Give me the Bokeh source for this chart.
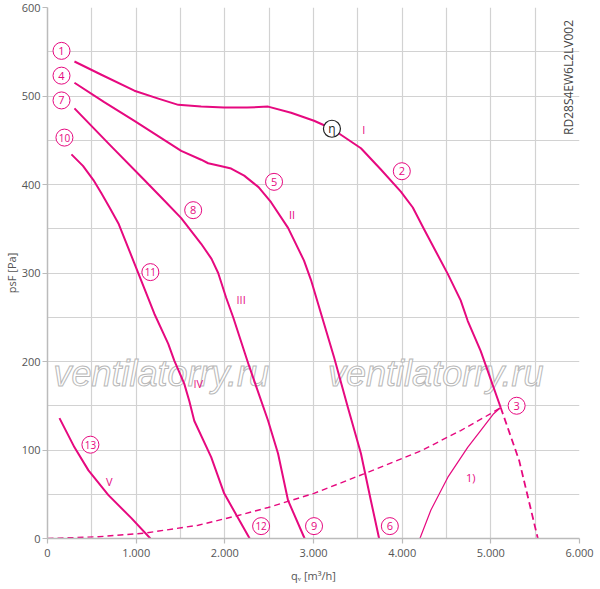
import math
from bokeh.plotting import figure
from bokeh.models import FixedTicker, ColumnDataSource
from bokeh.core.properties import value
from bokeh.embed import file_html
from bokeh.resources import INLINE

# ---------------- data ----------------
x_ticks = [0, 1000, 2000, 3000, 4000, 5000, 6000]
x_tick_labels = ["0", "1.000", "2.000", "3.000", "4.000", "5.000", "6.000"]
x_minor = [500, 1500, 2500, 3500, 4500, 5500]
y_ticks = [0, 100, 200, 300, 400, 500, 600]
y_tick_labels = ["0", "100", "200", "300", "400", "500", "600"]
y_minor = [50, 150, 250, 350, 450, 550]

curve_I_q = [304, 608, 980, 1250, 1475, 1733, 1992, 2250, 2488, 2747, 3006, 3208, 3535, 3760, 3985, 4120, 4244, 4514, 4660, 4739, 4885, 5111]
curve_I_p = [539, 524, 506, 497, 490, 488, 487, 487, 488, 481, 472, 463, 441, 417, 392, 374, 350, 299, 269, 246, 212, 148]
curve_I_ext_q = [5111, 5320, 5530]
curve_I_ext_p = [148, 88, 0]

curve_II_q = [304, 640, 980, 1508, 1733, 1812, 1950, 2071, 2218, 2380, 2521, 2713, 2893, 2972, 3231, 3388, 3535, 3647, 3740]
curve_II_p = [515, 493, 472, 438, 428, 424, 421, 418, 410, 397, 380, 351, 314, 292, 205, 148, 96, 43, 0]

curve_III_q = [304, 700, 1092, 1317, 1508, 1733, 1850, 1925, 2015, 2094, 2263, 2488, 2600, 2713, 2900]
curve_III_p = [486, 445, 405, 382, 362, 333, 316, 300, 272, 250, 198, 133, 96, 43, 0]

curve_IV_q = [270, 400, 518, 608, 700, 800, 980, 1205, 1362, 1430, 1542, 1600, 1655, 1846, 1992, 2280]
curve_IV_p = [434, 421, 405, 390, 374, 356, 311, 254, 220, 201, 175, 155, 133, 92, 51, 0]

curve_V_q = [135, 304, 462, 687, 946, 1160]
curve_V_p = [136, 103, 77, 49, 23, 0]

curve_1_q = [4200, 4323, 4514, 4739, 4885, 5032, 5111]
curve_1_p = [0, 32, 69, 103, 122, 141, 148]

system_q = [0, 574, 1092, 1700, 2150, 2488, 3006, 3568, 4210, 4660, 4998, 5111]
system_p = [0, 2, 6, 15, 26, 35, 51, 73, 99, 122, 141, 148]

circ_labels = ["1", "4", "7", "10", "2", "5", "8", "11", "3", "6", "9", "12", "13"]
circ_q = [158, 158, 158, 191, 3996, 2555, 1643, 1160, 5291, 3861, 3006, 2409, 484]
circ_p = [551, 523, 495, 453, 415, 403, 371, 301, 150, 14, 14, 14, 106]

eta_label = ["η"]
eta_q = [3208]
eta_p = [463]

roman_labels = ["I", "II", "III", "IV", "V", "1)"]
roman_q = [3568, 2758, 2184, 1700, 698, 4773]
roman_p = [462, 366, 270, 175, 64, 69]

model_label = ["RD28S4EW6L2LV002"]
model_q = [5876]
model_p = [521]

watermark = ["ventilatorry.ru", "ventilatorry.ru"]
watermark_q = [1283, 4379]
watermark_p = [186, 186]

# ---------------- styles ----------------
PINK = "#E6097F"
GRID = "#d2d2d2"
TXT = "#555555"
FONT = "Open Sans"

p = figure(width=594, height=585, x_range=(0, 6000), y_range=(0, 600),
           output_backend="svg", toolbar_location=None,
           min_border_left=40, min_border_top=7, min_border_right=15, min_border_bottom=40)
p.outline_line_color = None

xt = FixedTicker(ticks=x_ticks, minor_ticks=x_minor)
yt = FixedTicker(ticks=y_ticks, minor_ticks=y_minor)
p.xaxis.ticker = xt
p.yaxis.ticker = yt
p.xgrid.ticker = xt
p.ygrid.ticker = yt
p.xaxis.major_label_overrides = dict(zip(x_ticks, x_tick_labels))
p.yaxis.major_label_overrides = dict(zip(y_ticks, y_tick_labels))

for g in (p.xgrid, p.ygrid):
    g.grid_line_color = GRID
    g.grid_line_width = 1.2
    g.minor_grid_line_color = GRID
    g.minor_grid_line_width = 1.2

for ax in (p.xaxis, p.yaxis):
    ax.axis_line_color = "#bbbbbb"
    ax.axis_line_width = 1.5
    ax.major_tick_line_color = "#bbbbbb"
    ax.major_tick_line_width = 1.2
    ax.major_tick_out = 5
    ax.major_tick_in = 0
    ax.minor_tick_out = 0
    ax.minor_tick_in = 0
    ax.major_label_text_font = FONT
    ax.major_label_text_font_size = "11px"
    ax.major_label_text_color = TXT
    ax.axis_label_text_font = FONT
    ax.axis_label_text_font_size = "11px"
    ax.axis_label_text_font_style = "normal"
    ax.axis_label_text_color = TXT

p.xaxis.major_label_standoff = 5
p.yaxis.major_label_standoff = 2
p.xaxis.axis_label = "q\u1d65 [m³/h]"
p.yaxis.axis_label = "psF [Pa]"
p.xaxis.axis_label_standoff = 8
p.yaxis.axis_label_standoff = 0

# watermark
p.text(x=watermark_q, y=watermark_p, text=watermark,
       text_font=value("Liberation Sans"), text_font_style="italic",
       text_font_size="36px", text_color="white", text_outline_color="#b8b8b8",
       text_align="center", text_baseline="middle")

# system curve (dashed)
p.line(system_q, system_p, line_color=PINK, line_width=1.4, line_dash="6 4")
# curve I dashed extension
p.line(curve_I_ext_q, curve_I_ext_p, line_color=PINK, line_width=1.8, line_dash="7 4")

for qs, ps in [(curve_I_q, curve_I_p), (curve_II_q, curve_II_p), (curve_III_q, curve_III_p),
               (curve_IV_q, curve_IV_p), (curve_V_q, curve_V_p)]:
    p.line(qs, ps, line_color=PINK, line_width=2, line_join="round")

p.line(curve_1_q, curve_1_p, line_color=PINK, line_width=1.2, line_join="round")

# circled numbers
src = ColumnDataSource(dict(q=circ_q, pv=circ_p, t=circ_labels,
                            fs=["11px" if len(s) == 1 else "10px" for s in circ_labels]))
p.scatter("q", "pv", source=src, marker="circle", size=17, fill_color="white",
          line_color=PINK, line_width=1)
p.text("q", "pv", text="t", source=src, text_font=value(FONT), text_font_size="fs",
       text_color=PINK, text_align="center", text_baseline="middle")

# eta marker
p.scatter(eta_q, eta_p, marker="circle", size=17, fill_color="white",
          line_color="#222222", line_width=1.2)
p.text(eta_q, eta_p, text=eta_label, text_font=value(FONT), text_font_size="12px",
       text_color="#222222", text_align="center", text_baseline="middle")

# roman labels
p.text(roman_q, roman_p, text=roman_labels, text_font=value(FONT), text_font_size="11px",
       text_color=PINK, text_align="center", text_baseline="middle")

# model label
p.text(model_q, model_p, text=model_label, text_font=value(FONT), text_font_size="12px",
       text_color="#444444", text_align="center", text_baseline="middle", angle=math.pi / 2)

open("out.html", "w").write(file_html(p, INLINE))
